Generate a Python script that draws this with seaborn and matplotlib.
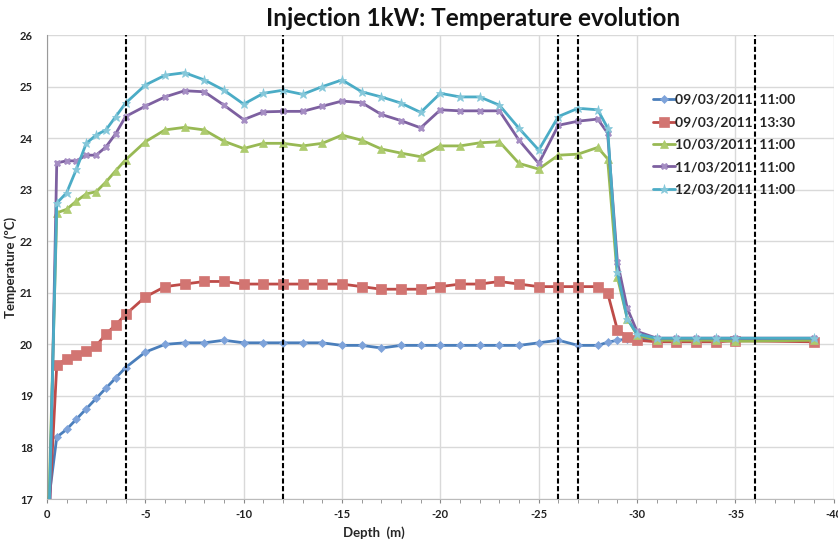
import numpy as np
import pandas as pd
import seaborn as sns
import matplotlib.pyplot as plt
from matplotlib.ticker import MultipleLocator

# --- DATA ---
depth = [0, -0.5, -1, -1.5, -2, -2.5, -3, -3.5, -4, -5, -6, -7, -8, -9, -10,
         -11, -12, -13, -14, -15, -16, -17, -18, -19, -20, -21, -22, -23, -24,
         -25, -26, -27, -28, -28.5, -29, -29.5, -30, -31, -32, -33, -34, -35, -39]

t_0903_1100 = [16.7, 18.2, 18.35, 18.55, 18.75, 18.95, 19.15, 19.35, 19.55, 19.85,
               20.0, 20.03, 20.03, 20.08, 20.03, 20.03, 20.03, 20.03, 20.03, 19.98,
               19.98, 19.93, 19.98, 19.98, 19.98, 19.98, 19.98, 19.98, 19.98, 20.03,
               20.08, 19.98, 19.98, 20.04, 20.08, 20.1, 20.1, 20.1, 20.1, 20.1,
               20.1, 20.1, 20.1]
t_0903_1330 = [15.9, 19.6, 19.72, 19.8, 19.87, 19.97, 20.2, 20.38, 20.58, 20.92,
               21.12, 21.17, 21.22, 21.22, 21.17, 21.17, 21.17, 21.17, 21.17, 21.17,
               21.12, 21.07, 21.07, 21.07, 21.12, 21.17, 21.17, 21.22, 21.17, 21.12,
               21.12, 21.12, 21.12, 21.0, 20.28, 20.15, 20.08, 20.05, 20.05, 20.05,
               20.05, 20.07, 20.05]
t_1003_1100 = [15.5, 22.55, 22.62, 22.78, 22.92, 22.96, 23.15, 23.37, 23.58, 23.93,
               24.16, 24.21, 24.16, 23.94, 23.8, 23.9, 23.9, 23.85, 23.9, 24.06,
               23.96, 23.79, 23.71, 23.64, 23.85, 23.85, 23.91, 23.93, 23.51, 23.4,
               23.67, 23.69, 23.82, 23.6, 21.3, 20.5, 20.18, 20.08, 20.08, 20.08,
               20.08, 20.06, 20.08]
t_1103_1100 = [14.0, 23.52, 23.56, 23.56, 23.67, 23.67, 23.83, 24.09, 24.42, 24.62,
               24.8, 24.92, 24.9, 24.64, 24.36, 24.51, 24.52, 24.52, 24.62, 24.72,
               24.69, 24.46, 24.34, 24.2, 24.55, 24.53, 24.53, 24.53, 23.96, 23.51,
               24.25, 24.33, 24.37, 24.1, 21.6, 20.7, 20.25, 20.12, 20.12, 20.12,
               20.12, 20.12, 20.12]
t_1203_1100 = [15.0, 22.74, 22.94, 23.4, 23.9, 24.06, 24.16, 24.42, 24.68, 25.03,
               25.22, 25.27, 25.13, 24.93, 24.66, 24.87, 24.93, 24.85, 25.0, 25.13,
               24.9, 24.8, 24.68, 24.5, 24.87, 24.8, 24.8, 24.64, 24.19, 23.77,
               24.42, 24.58, 24.55, 24.2, 21.4, 20.5, 20.2, 20.12, 20.12, 20.12,
               20.12, 20.12, 20.12]

series_labels = ['09/03/2011  11:00', '09/03/2011  13:30', '10/03/2011  11:00',
                 '11/03/2011  11:00', '12/03/2011  11:00']
boundaries = [-4, -12, -26, -27, -36]

# --- long-form table for seaborn ---
all_series = [t_0903_1100, t_0903_1330, t_1003_1100, t_1103_1100, t_1203_1100]
frames = [pd.DataFrame({'Depth': depth, 'Temp': vals, 'Series': lab})
          for lab, vals in zip(series_labels, all_series)]
df = pd.concat(frames, ignore_index=True)

line_colors = ['#4A7EBB', '#BE4B48', '#98B954', '#7D60A0', '#4BACC6']
marker_faces = ['#7EA3DA', '#D27572', '#ADCB6E', '#A58DC3', '#86C8DA']
marker_styles = ['D', 's', '^', 'X', '*']
marker_sizes = [4, 6.5, 6, 5, 6.5]

sns.set_style("whitegrid")
plt.rcParams['font.family'] = ['Lato', 'DejaVu Sans']
plt.rcParams['axes.unicode_minus'] = False

fig = plt.figure(figsize=(8.38, 5.42), dpi=100)
ax = fig.add_axes([0.056, 0.0793, 0.939, 0.856])

for i, lab in enumerate(series_labels):
    sns.lineplot(
        data=df[df['Series'] == lab], x='Depth', y='Temp', ax=ax,
        color=line_colors[i], linewidth=2.0, marker=marker_styles[i],
        markersize=marker_sizes[i], markerfacecolor=marker_faces[i],
        markeredgecolor=marker_faces[i], markeredgewidth=0.5,
        label=lab, sort=False, zorder=3,
    )

# section boundaries
for b in boundaries:
    ax.axvline(b, color='black', linestyle=(0, (2.5, 1.2)), linewidth=1.5, zorder=4)

ax.set_xlim(0, -40)
ax.set_ylim(17, 26)
ax.xaxis.set_minor_locator(MultipleLocator(1))
ax.yaxis.set_major_locator(MultipleLocator(1))
ax.set_xticks(range(0, -41, -5))
ax.set_xticklabels([str(v) if v == 0 else '-' + str(-v) for v in range(0, -41, -5)])
ax.grid(True, which='major', color='#D9D9D9', linewidth=1)
ax.tick_params(axis='x', which='both', direction='out', bottom=True, colors='#888888',
               labelcolor='#222222', labelsize=8, pad=4)
ax.tick_params(axis='x', which='major', length=3)
ax.tick_params(axis='x', which='minor', length=3, width=0.6)
ax.tick_params(axis='y', labelsize=8, labelcolor='#222222', pad=6.5)
for lbl in ax.get_xticklabels() + ax.get_yticklabels():
    lbl.set_fontweight('bold')

for side in ['top', 'right']:
    ax.spines[side].set_visible(False)
ax.spines['left'].set_color('#9A9A9A')
ax.spines['bottom'].set_color('#BBBBBB')

ax.set_xlabel('Depth  (m)', fontsize=9.5, fontweight='bold')
ax.set_ylabel('Temperature (ºC)', fontsize=9.5, fontweight='bold')
ax.xaxis.set_label_coords(0.415, -0.058)
ax.yaxis.set_label_coords(-0.038, 0.5)

fig.text(0.565, 0.965, 'Injection 1kW: Temperature evolution', ha='center', va='center',
         fontsize=17.5, fontweight='bold', color='#111111')

leg = ax.legend(loc='upper left', bbox_to_anchor=(0.763, 0.885), frameon=False,
                fontsize=10, handlelength=1.6, handletextpad=0.0, labelspacing=0.75,
                borderaxespad=0)
for t in leg.get_texts():
    t.set_fontweight('bold')
leg.set_zorder(2)

plt.savefig('out.png', dpi=100)
